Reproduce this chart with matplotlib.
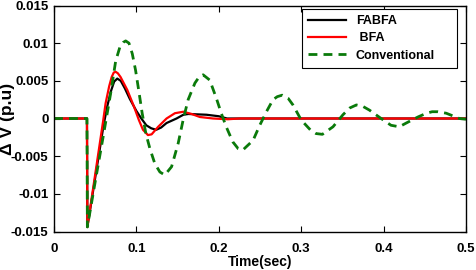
import matplotlib
matplotlib.use("Agg")
import matplotlib.pyplot as plt

plt.rcParams['font.family'] = ['Liberation Sans', 'DejaVu Sans']
plt.rcParams['font.weight'] = 'bold'

# FABFA (black)
t_fabfa = [0.0, 0.040, 0.0405, 0.060, 0.0646, 0.069, 0.073, 0.0768, 0.081, 0.086,
           0.092, 0.100, 0.106, 0.112, 0.118, 0.124, 0.130, 0.1366, 0.1487, 0.157,
           0.163, 0.185, 0.200, 0.210, 0.230, 0.500]
v_fabfa = [0.0, 0.0, -0.0144, -0.0010, 0.0016, 0.0036, 0.0049, 0.0053, 0.0050, 0.0040,
           0.0026, 0.0010, 0.0000, -0.0009, -0.0013, -0.0015, -0.0012, -0.0006, 0.0000, 0.0005,
           0.0006, 0.0005, 0.0003, 0.0000, 0.0000, 0.0]

# BFA (red)
t_bfa = [0.0, 0.040, 0.0405, 0.0598, 0.0626, 0.067, 0.070, 0.0725, 0.0748, 0.0775,
         0.0808, 0.0889, 0.097, 0.103, 0.108, 0.114, 0.1185, 0.1264, 0.1366, 0.1467,
         0.157, 0.167, 0.177, 0.193, 0.211, 0.225, 0.500]
v_bfa = [0.0, 0.0, -0.0144, -0.0002, 0.0020, 0.0043, 0.0055, 0.0061, 0.0062, 0.0060,
         0.0055, 0.0038, 0.0016, -0.0002, -0.0015, -0.0022, -0.0021, -0.0011, 0.0000, 0.0007,
         0.0009, 0.0006, 0.0002, 0.0000, -0.0001, 0.0000, 0.0]

# Conventional (green dashed)
t_conv = [0.0, 0.040, 0.0405, 0.050, 0.060, 0.069, 0.0748, 0.080, 0.084, 0.087,
          0.091, 0.095, 0.099, 0.103, 0.107, 0.1115, 0.1164, 0.1224, 0.1285, 0.1345,
          0.1427, 0.1507, 0.1567, 0.1628, 0.171, 0.176, 0.181, 0.189, 0.197, 0.203,
          0.209, 0.217, 0.2235, 0.229, 0.2416, 0.2497, 0.2578, 0.2658, 0.271, 0.277,
          0.284, 0.290, 0.300, 0.311, 0.318, 0.3257, 0.3386, 0.3507, 0.359, 0.367,
          0.375, 0.383, 0.397, 0.409, 0.419, 0.4275, 0.4416, 0.452, 0.459, 0.466,
          0.476, 0.492, 0.500]
v_conv = [0.0, 0.0, -0.0144, -0.0084, -0.0022, 0.0035, 0.0076, 0.0095, 0.0101, 0.0103,
          0.0100, 0.0086, 0.0064, 0.0036, 0.0007, -0.0020, -0.0040, -0.0060, -0.0071, -0.0075,
          -0.0064, -0.0033, -0.0002, 0.0025, 0.0047, 0.0055, 0.0058, 0.0051, 0.0027, 0.0007,
          -0.0011, -0.0031, -0.0040, -0.0042, -0.0029, -0.0009, 0.0009, 0.0025, 0.0029, 0.0031,
          0.0027, 0.0018, -0.0002, -0.0015, -0.0020, -0.0021, -0.0011, 0.0005, 0.0014, 0.0018,
          0.0016, 0.0011, 0.0000, -0.0009, -0.0011, -0.0006, 0.0002, 0.0007, 0.0009, 0.0009,
          0.0007, 0.0000, -0.0001]

x_ticks = [0, 0.1, 0.2, 0.3, 0.4, 0.5]
x_tick_labels = ['0', '0.1', '0.2', '0.3', '0.4', '0.5']
y_ticks = [-0.015, -0.01, -0.005, 0, 0.005, 0.01, 0.015]
y_tick_labels = ['-0.015', '-0.01', '-0.005', '0', '0.005', '0.01', '0.015']

fig = plt.figure(figsize=(4.76, 2.70), dpi=100)
ax = fig.add_axes([54/476, 1-231.5/270, (466-54)/476, (231.5-5.5)/270])

ax.plot(t_fabfa, v_fabfa, color='black', lw=1.6, label='FABFA')
ax.plot(t_bfa, v_bfa, color='#ff0000', lw=1.6, label=' BFA')
ax.plot(t_conv, v_conv, color='#0a7a0a', lw=2.0, ls=(0, (3.2, 2.2)), label='Conventional')

ax.set_xlim(0, 0.5)
ax.set_ylim(-0.015, 0.015)
ax.set_xticks(x_ticks)
ax.set_xticklabels(x_tick_labels)
ax.set_yticks(y_ticks)
ax.set_yticklabels(y_tick_labels)
ax.tick_params(direction='in', top=True, right=True, length=4, width=0.8,
               labelsize=9.5)
ax.tick_params(axis='x', pad=8)
ax.tick_params(axis='y', pad=4)
for lab in ax.get_xticklabels() + ax.get_yticklabels():
    lab.set_fontweight('bold')
for s in ax.spines.values():
    s.set_linewidth(1.0)

ax.set_xlabel('Time(sec)', fontsize=10, fontweight='bold', labelpad=0)
ax.set_ylabel('Δ V (p.u)', fontsize=12.5, fontweight='bold')
ax.yaxis.set_label_coords(-(54-15)/412, 0.5)

leg = ax.legend(loc='upper left', bbox_to_anchor=(302/476, 1-68/270, 155/476, 59/270),
                bbox_transform=fig.transFigure, mode='expand', fancybox=False,
                framealpha=1, edgecolor='black', prop={'weight': 'bold', 'size': 9},
                handlelength=3.0, borderpad=0.5, labelspacing=0.42,
                handletextpad=0.8, borderaxespad=0)
leg.get_frame().set_linewidth(0.8)

fig.savefig('out.png', dpi=100)
